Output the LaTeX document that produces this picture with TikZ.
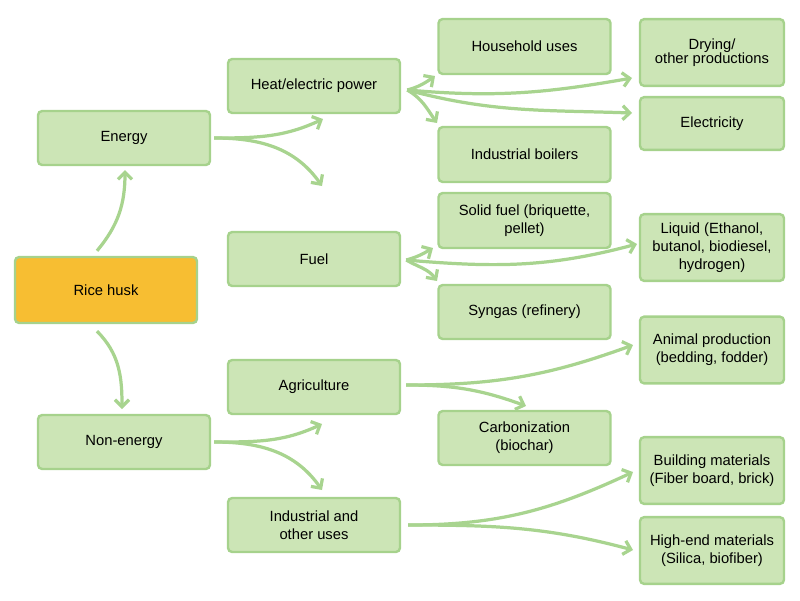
\documentclass[tikz,border=0pt]{standalone}
\usepackage{fontspec}
\setmainfont{Liberation Sans}
\usetikzlibrary{calc}
\usetikzlibrary{arrows.meta}

\definecolor{boxfill}{RGB}{204,229,182}
\definecolor{boxline}{RGB}{166,210,140}
\definecolor{huskfill}{RGB}{247,190,50}
\definecolor{flowline}{RGB}{168,212,143}

\tikzset{
    box/.style={draw=boxline, fill=boxfill, line width=1.7pt, rounded corners=3pt,
        align=center, inner sep=2pt, font=\fontsize{10.5}{13}\selectfont},
    wide/.style={minimum width=4.3cm, minimum height=1.35cm},
    narrow/.style={minimum width=3.6cm, minimum height=1.67cm},
    flow/.style={draw=flowline, line width=2.3pt,
        -{Straight Barb[length=5pt, width=10pt, line width=2.3pt]}}
}

\begin{document}
\begin{tikzpicture}[x=0.025cm, y=0.025cm]
    \useasboundingbox (0,0) rectangle (800,-600);

    % source box
    \node[box, fill=huskfill, minimum width=4.55cm, minimum height=1.65cm] (husk) at (106,-290) {Rice husk};

    % first level
    \node[box, wide] (energy) at (124,-138) {Energy};
    \node[box, wide] (nonenergy) at (124,-442) {Non-energy};

    % second level
    \node[box, wide] (heat) at (314,-86) {Heat/electric power};
    \node[box, wide] (fuel) at (314,-259) {Fuel};
    \node[box, wide] (agri) at (314,-387) {Agriculture};
    \node[box, wide] (indus) at (314,-525) {Industrial and\\other uses};

    % third level
    \node[box, wide, minimum height=1.375cm] (house) at (524.5,-46.5) {Household uses};
    \node[box, wide, minimum height=1.375cm] (boiler) at (524.5,-154.5) {Industrial boilers};
    \node[box, wide, minimum height=1.375cm] (solid) at (524.5,-220.5) {Solid fuel (briquette,\\pellet)};
    \node[box, wide] (syngas) at (524.5,-312) {Syngas (refinery)};
    \node[box, wide] (carbon) at (524.5,-438) {Carbonization\\(biochar)};

    % fourth level
    \node[box, narrow] (drying) at (712,-52.5) {Drying/\\[-3pt]other productions};
    \node[box, narrow, minimum height=1.32cm] (elec) at (712,-123.5) {Electricity};
    \node[box, narrow] (liquid) at (712,-247.5) {Liquid (Ethanol,\\butanol, biodiesel,\\hydrogen)};
    \node[box, narrow] (animal) at (712,-350) {Animal production\\(bedding, fodder)};
    \node[box, narrow] (building) at (712,-470.5) {Building materials\\(Fiber board, brick)};
    \node[box, narrow] (highend) at (712,-550.5) {High-end materials\\(Silica, biofiber)};

    % arrow ends
    \coordinate (toEnergy) at (125,-170);
    \coordinate (toNon) at (122,-409);
    \coordinate (toHeat) at (323,-119);
    \coordinate (toFuel) at (322,-186);
    \coordinate (toAgri) at (322,-424);
    \coordinate (toIndus) at (322,-490);
    \coordinate (toHouse) at (435,-76);
    \coordinate (toDrying) at (632,-78);
    \coordinate (toElec) at (632,-113);
    \coordinate (toBoiler) at (437,-123);
    \coordinate (toSolid) at (433,-248);
    \coordinate (toLiquid) at (637,-244);
    \coordinate (toSyngas) at (437,-281);
    \coordinate (toAnimal) at (633,-345);
    \coordinate (toCarbon) at (526,-406);
    \coordinate (toBuilding) at (633,-472);
    \coordinate (toHighend) at (633,-550);

    % rice husk branches
    \draw[flow] ($(husk.north)+(-9,5)$) to[out=50, in=-90] (toEnergy);
    \draw[flow] ($(husk.south)+(-9,-7)$) to[out=-45, in=90] (toNon);

    % energy branches
    \draw[flow] ($(energy.east)+(3,0)$) to[out=0, in=205] (toHeat);
    \draw[flow] ($(energy.east)+(3,0)$) to[out=0, in=125] (toFuel);
    \draw[flow] ($(nonenergy.east)+(3,0)$) to[out=0, in=205] (toAgri);
    \draw[flow] ($(nonenergy.east)+(3,0)$) to[out=0, in=125] (toIndus);

    % heat branches
    \draw[flow] ($(heat.east)+(6,-4)$) to[out=15, in=215] (toHouse);
    \draw[flow] ($(heat.east)+(6,-4)$) to[out=-5, in=190] (toDrying);
    \draw[flow] ($(heat.east)+(6,-4)$) to[out=-15, in=178] (toElec);
    \draw[flow] ($(heat.east)+(6,-4)$) to[out=-30, in=125] (toBoiler);

    % fuel branches
    \draw[flow] ($(fuel.east)+(5,-1)$) to[out=15, in=210] (toSolid);
    \draw[flow] ($(fuel.east)+(5,-1)$) to[out=-5, in=195] (toLiquid);
    \draw[flow] ($(fuel.east)+(5,-1)$) to[out=-30, in=125] (toSyngas);

    % agriculture and industry branches
    \draw[flow] ($(agri.east)+(5,2)$) to[out=0, in=200] (toAnimal);
    \draw[flow] ($(agri.east)+(5,2)$) to[out=0, in=160] (toCarbon);
    \draw[flow] ($(indus.east)+(7,0)$) to[out=0, in=205] (toBuilding);
    \draw[flow] ($(indus.east)+(7,0)$) to[out=0, in=165] (toHighend);
\end{tikzpicture}
\end{document}
